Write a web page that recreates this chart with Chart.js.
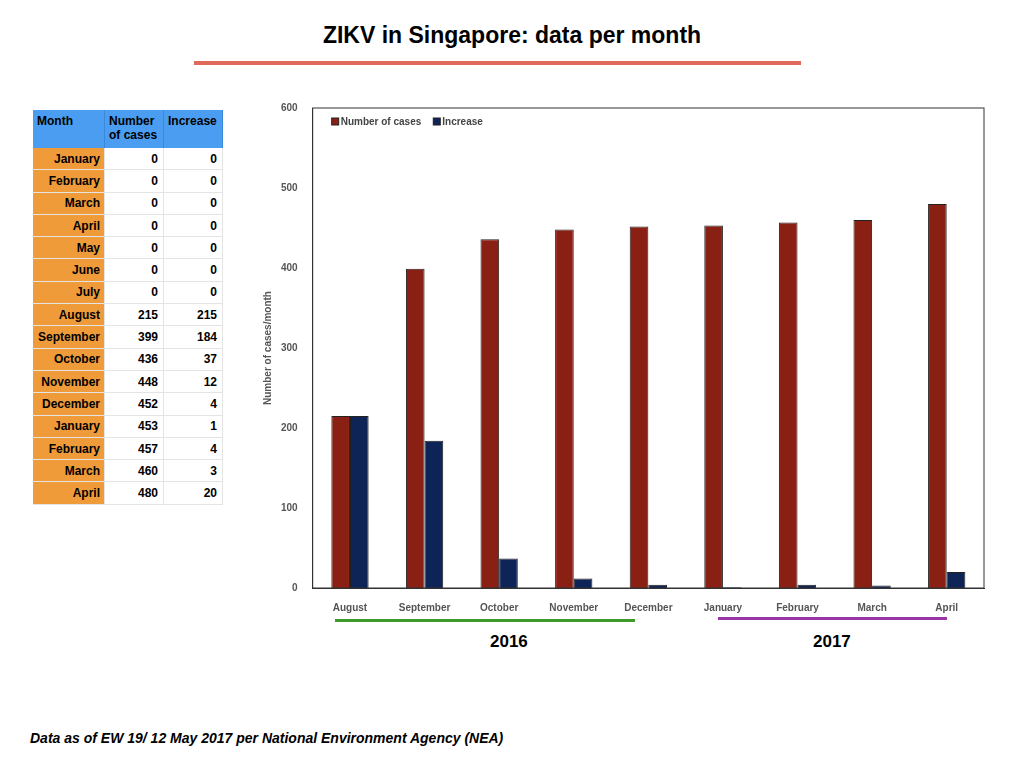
<!DOCTYPE html>
<html><head><meta charset="utf-8">
<script src="https://cdn.jsdelivr.net/npm/chart.js@4"></script>
<style>
body{margin:0;width:1024px;height:768px;background:#fff;font-family:"Liberation Sans",Arial,sans-serif;position:relative;overflow:hidden}
#title{position:absolute;top:22px;left:0;width:1024px;text-align:center;font-weight:bold;font-size:23px;color:#000}
.bar{position:absolute;height:4px}
table{position:absolute;left:33px;top:110px;border-collapse:collapse;font-size:12px;font-weight:bold}
td{border-bottom:1px solid #e4e4e4;border-right:1px solid #e4e4e4;height:21.3px;padding:0 5px;text-align:right}
td.m{background:#f09b3a;width:60px;padding-right:4px}
td.v{width:48px}
th{background:#4a9df0;text-align:left;vertical-align:top;height:38px;padding:4px 4px 0 4px;box-sizing:border-box;font-size:12px;border-right:1px solid #3a88d8}
.yr{position:absolute;font-weight:bold;font-size:17px;top:632px}
#foot{position:absolute;left:30px;top:730px;font-weight:bold;font-style:italic;font-size:14px}
#wrap{position:absolute;left:262px;top:95px;width:730px;height:525px}
</style></head><body>
<div id="title">ZIKV in Singapore: data per month</div>
<div class="bar" style="left:194px;top:61px;width:607px;background:#e0695c"></div>
<table id="tbl"></table>
<div id="wrap"><canvas id="c"></canvas></div>
<div class="bar" style="left:335px;top:619px;width:300px;height:3px;background:#3f9a2c"></div>
<div class="bar" style="left:718px;top:617px;width:229px;height:3px;background:#9b36a8"></div>
<div class="yr" style="left:490px">2016</div>
<div class="yr" style="left:813px">2017</div>
<div id="foot">Data as of EW 19/ 12 May 2017 per National Environment Agency (NEA)</div>
<script>
const tableMonths = ['January','February','March','April','May','June','July','August','September','October','November','December','January','February','March','April'];
const tableCases = [0,0,0,0,0,0,0,215,399,436,448,452,453,457,460,480];
const tableIncrease = [0,0,0,0,0,0,0,215,184,37,12,4,1,4,3,20];

const chartMonths = ['August','September','October','November','December','January','February','March','April'];
const cases = [215,399,436,448,452,453,457,460,480];
const increase = [215,184,37,12,4,1,4,3,20];

let html = '<tr><th style="width:70px">Month</th><th>Number<br>of cases</th><th>Increase</th></tr>';
for (let i = 0; i < tableMonths.length; i++) {
    html += '<tr><td class="m">' + tableMonths[i] + '</td><td class="v">' + tableCases[i] + '</td><td class="v">' + tableIncrease[i] + '</td></tr>';
}
document.getElementById('tbl').innerHTML = html;

Chart.defaults.font.family = '"Liberation Sans", Arial, sans-serif';
Chart.defaults.font.weight = 'bold';
Chart.defaults.font.size = 10;
Chart.defaults.color = '#555';

new Chart(document.getElementById('c'), {
    type: 'bar',
    data: {
        labels: chartMonths,
        datasets: [
            {label: 'Number of cases', data: cases, backgroundColor: '#8a1f14', borderColor: '#222', borderWidth: 1, categoryPercentage: 0.5, barPercentage: 1},
            {label: 'Increase', data: increase, backgroundColor: '#0e2356', borderColor: '#222', borderWidth: 1, categoryPercentage: 0.5, barPercentage: 1}
        ]
    },
    options: {
        responsive: true,
        maintainAspectRatio: false,
        animation: false,
        layout: {padding: {top: 7, right: 8}},
        plugins: {
            legend: {display: false},
            tooltip: {enabled: false}
        },
        scales: {
            x: {grid: {display: false}, border: {color: '#333'}, ticks: {padding: 6}},
            y: {min: 0, max: 600, ticks: {stepSize: 100, padding: 7},
                grid: {display: false}, border: {color: '#333'},
                title: {display: true, text: 'Number of cases/month', color: '#555', padding: 0, font: {size: 10, weight: 'bold'}}}
        }
    },
    plugins: [{
        id: 'frameLegend',
        afterDraw(chart) {
            const {ctx, chartArea: a} = chart;
            ctx.save();
            ctx.strokeStyle = '#333';
            ctx.lineWidth = 1;
            ctx.strokeRect(a.left, a.top, a.right - a.left, a.bottom - a.top);
            ctx.font = 'bold 10px "Liberation Sans", Arial, sans-serif';
            ctx.textBaseline = 'middle';
            let x = a.left + 19;
            const y = a.top + 14;
            chart.data.datasets.forEach(ds => {
                ctx.fillStyle = ds.backgroundColor;
                ctx.fillRect(x, y - 4, 7, 7);
                ctx.strokeStyle = '#222';
                ctx.strokeRect(x, y - 4, 7, 7);
                ctx.fillStyle = '#444';
                ctx.fillText(ds.label, x + 9, y);
                x += 9 + ctx.measureText(ds.label).width + 12;
            });
            ctx.restore();
        }
    }]
});
</script>
</body></html>
